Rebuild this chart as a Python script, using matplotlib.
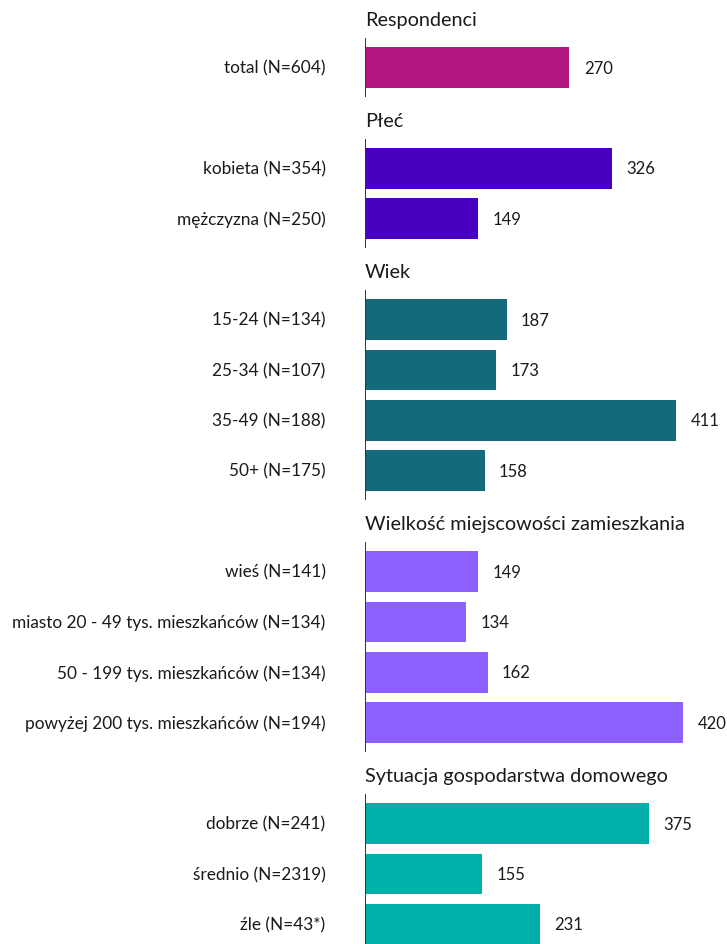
import matplotlib.pyplot as plt

plt.rcParams['font.family'] = ['Lato', 'DejaVu Sans']

groups = ['Respondenci', 'Płeć', 'Wiek', 'Wielkość miejscowości zamieszkania',
          'Sytuacja gospodarstwa domowego']
labels = [
    ['total (N=604)'],
    ['kobieta (N=354)', 'mężczyzna (N=250)'],
    ['15-24 (N=134)', '25-34 (N=107)', '35-49 (N=188)', '50+ (N=175)'],
    ['wieś (N=141)', 'miasto 20 - 49 tys. mieszkańców (N=134)',
     '50 - 199 tys. mieszkańców (N=134)', 'powyżej 200 tys. mieszkańców (N=194)'],
    ['dobrze (N=241)', 'średnio (N=2319)', 'źle (N=43*)'],
]
values = [
    [270],
    [326, 149],
    [187, 173, 411, 158],
    [149, 134, 162, 420],
    [375, 155, 231],
]
colors = ['#B3177F', '#4A00C0', '#14697A', '#8C61FF', '#00AFA8']

fig = plt.figure(figsize=(7.27, 9.45), dpi=100)
ax = fig.add_axes([365 / 727, 0, 1 - 365 / 727, 1])

row = -1
for name, labs, vals, col in zip(groups, labels, values, colors):
    row += 1
    ax.text(0, row + 0.05, name, fontsize=14.3, va='center', ha='left', color='#1a1a1a')
    first = row + 1
    for lab, v in zip(labs, vals):
        row += 1
        ax.barh(row, v, height=0.81, color=col)
        ax.text(v + 19, row, str(v), va='center', ha='left', fontsize=12, color='#1a1a1a')
        ax.text(-52, row, lab, va='center', ha='right', fontsize=12.4, color='#1a1a1a')
    ax.plot([0, 0], [first - 0.58, row + 0.58], color='#333333', lw=1.4, solid_capstyle='butt')

ax.set_xlim(0, 478)
ax.set_ylim(18.39, -0.36)
ax.axis('off')

fig.savefig('out.png', dpi=100)
